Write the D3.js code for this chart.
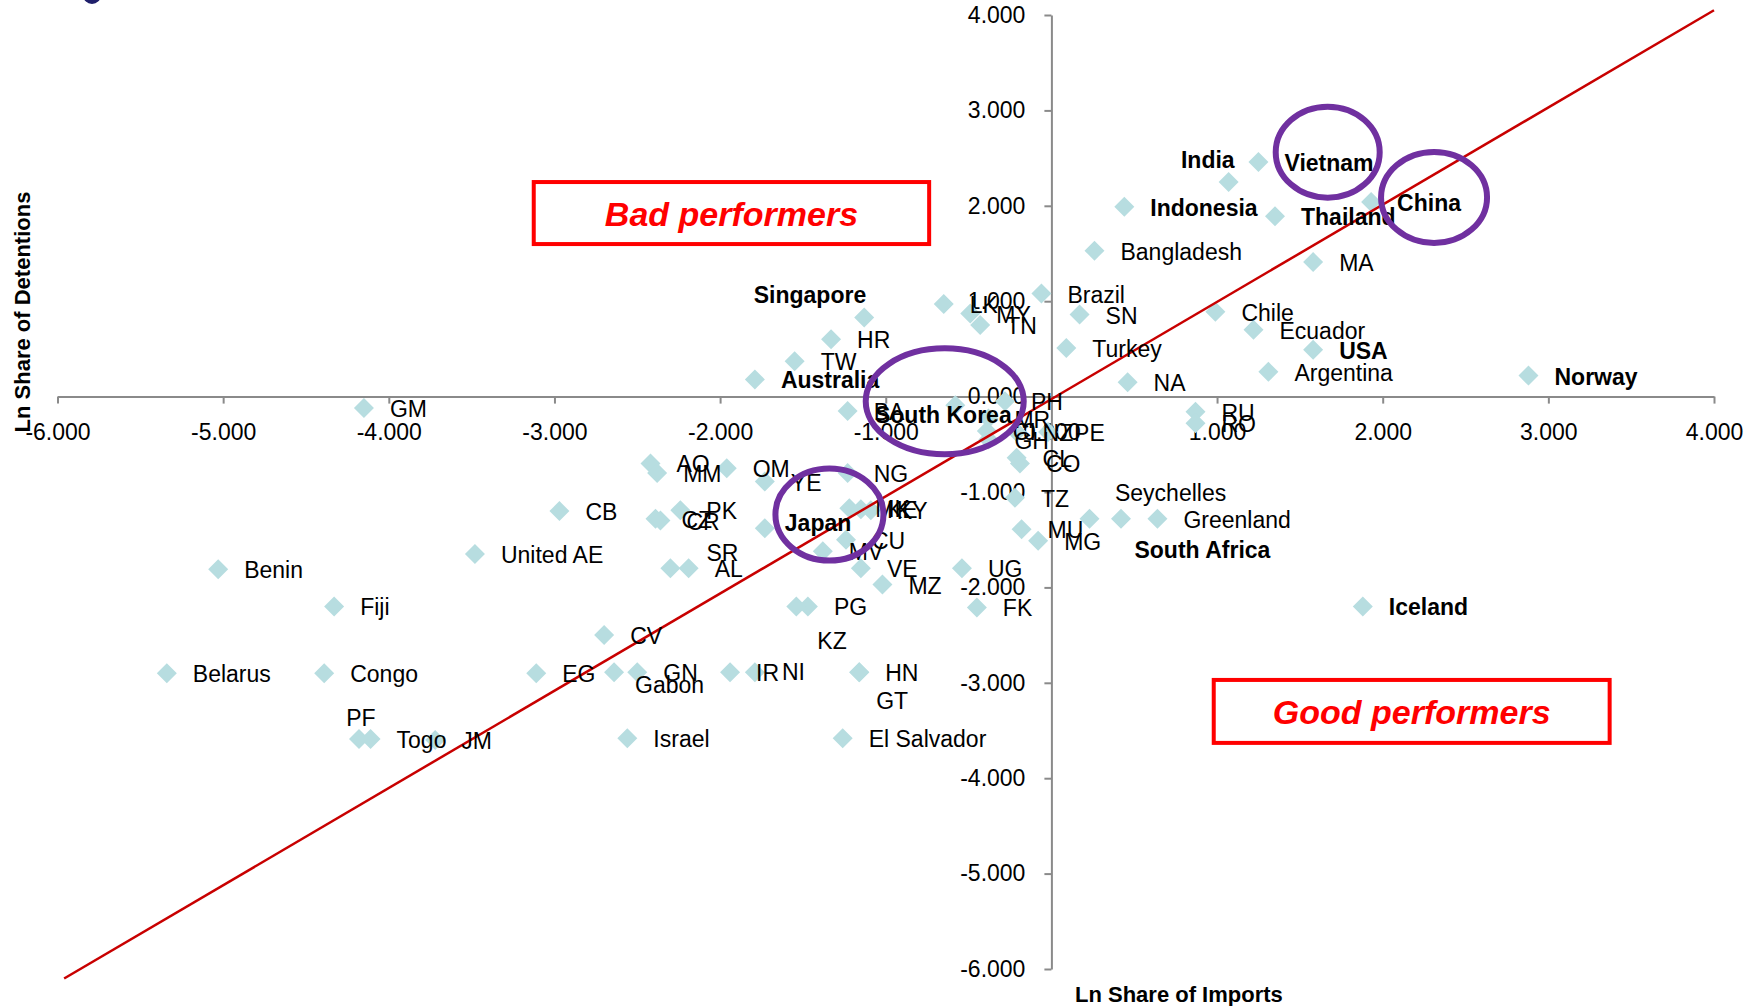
<!DOCTYPE html>
<html>
<head>
<meta charset="utf-8">
<script src="https://cdn.jsdelivr.net/npm/d3@7"></script>
<style>
  body { margin: 0; background: #fff; }
  text { font-family: "Liberation Sans", Arial, sans-serif; }
</style>
</head>
<body>
<div id="chart"></div>
<script>
// country codes / names, ln share of imports (x), ln share of detentions (y)
var countries = ["India", "Vietnam", "Indonesia", "Thailand", "China", "Bangladesh", "MA", "Chile", "Ecuador", "USA",
  "Argentina", "Norway", "NA", "Turkey", "SN", "Brazil", "LK", "MY", "TN", "Singapore",
  "HR", "TW", "Australia", "BA", "South Korea", "PH", "MR", "CI", "GH", "NZ",
  "PE", "CL", "CO", "TZ", "MU", "MG", "Seychelles", "South Africa", "Greenland", "RU",
  "RO", "Iceland", "GM", "AO", "MM", "OM", "YE", "NG", "CZ", "CR",
  "PK", "Japan", "MK", "KE", "KY", "CU", "MV", "SR", "AL", "VE",
  "MZ", "PG", "KZ", "UG", "FK", "HN", "GT", "IR", "NI", "GN",
  "Gabon", "EG", "CV", "Israel", "El Salvador", "Benin", "Fiji", "Belarus", "Congo", "PF",
  "Togo", "JM", "CB", "United AE"];
var lnImports = [1.07, 1.25, 0.44, 1.35, 1.93, 0.26, 1.58, 0.99, 1.22, 1.58,
  1.31, 2.88, 0.46, 0.09, 0.17, -0.06, -0.65, -0.49, -0.43, -1.13,
  -1.33, -1.55, -1.79, -1.23, -0.58, -0.28, -0.38, -0.39, -0.38, -0.21,
  -0.02, -0.21, -0.19, -0.22, -0.18, -0.08, 0.42, 0.23, 0.64, 0.87,
  0.87, 1.88, -4.15, -2.42, -2.38, -1.96, -1.73, -1.23, -2.39, -2.36,
  -2.24, -1.73, -1.22, -1.15, -1.09, -1.24, -1.38, -2.30, -2.19, -1.15,
  -1.02, -1.47, -1.54, -0.54, -0.45, -1.16, -1.16, -1.94, -1.79, -2.50,
  -2.64, -3.11, -2.70, -2.56, -1.26, -5.03, -4.33, -5.34, -4.39, -4.18,
  -4.11, -3.72, -2.97, -3.48];
var lnDetentions = [2.25, 2.46, 1.99, 1.89, 2.04, 1.53, 1.41, 0.89, 0.70, 0.49,
  0.26, 0.22, 0.15, 0.51, 0.86, 1.08, 0.97, 0.87, 0.75, 0.83,
  0.60, 0.37, 0.18, -0.15, -0.09, -0.05, -0.23, -0.36, -0.45, -0.37,
  -0.37, -0.64, -0.70, -1.06, -1.39, -1.51, -1.28, -1.28, -1.28, -0.16,
  -0.28, -2.20, -0.12, -0.70, -0.80, -0.75, -0.89, -0.80, -1.28, -1.30,
  -1.19, -1.38, -1.17, -1.18, -1.19, -1.50, -1.62, -1.80, -1.80, -1.80,
  -1.97, -2.20, -2.20, -1.80, -2.21, -2.89, -2.89, -2.89, -2.89, -2.89,
  -2.89, -2.90, -2.50, -3.58, -3.58, -1.81, -2.20, -2.90, -2.90, -3.59,
  -3.59, -3.60, -1.20, -1.65];
var boldNames = ["India", "Vietnam", "Indonesia", "Thailand", "China", "USA", "Norway", "Singapore",
  "Australia", "South Korea", "Japan", "South Africa", "Iceland"];

var xTicks = [-6, -5, -4, -3, -2, -1, 0, 1, 2, 3, 4];
var yTicks = [-6, -5, -4, -3, -2, -1, 0, 1, 2, 3, 4];

// red reference line end points
var lineX = [-5.96, 4.0];
var lineY = [-6.1, 4.05];

// highlighted groups (purple ellipses), centre in data units
var ringNames = ["Vietnam", "China", "South Korea", "Japan"];
var ringX = [1.668, 2.31, -0.644, -1.34];
var ringY = [2.562, 2.088, -0.05, -1.237];

var svgWidth = 1762;
var svgHeight = 1006;

var svg = d3.select("#chart")
            .append("svg")
            .attr("width", svgWidth)
            .attr("height", svgHeight)
            .style("background", "#fff");

var xScale = d3.scaleLinear().domain([-6, 4]).range([57.5, 1714]);
var yScale = d3.scaleLinear().domain([-6, 4]).range([969, 15]);

var fmt = function(d) { return d.toFixed(3); };
var axisColor = "#8a8a8a";

// little logo fragment top-left
svg.append("circle").attr("cx", 92).attr("cy", -5).attr("r", 9).attr("fill", "#1f1f6b");

var xAxis = d3.axisBottom(xScale).tickValues(xTicks).tickFormat(fmt)
              .tickSizeInner(7).tickSizeOuter(0).tickPadding(20);
var yAxis = d3.axisLeft(yScale).tickValues(yTicks).tickFormat(fmt)
              .tickSizeInner(7).tickSizeOuter(0).tickPadding(19);

var gx = svg.append("g")
            .attr("transform", `translate(0, ${yScale(0)})`)
            .call(xAxis);
var gy = svg.append("g")
            .attr("transform", `translate(${xScale(0)}, 0)`)
            .call(yAxis);

[gx, gy].forEach(function(g) {
    g.select(".domain").attr("stroke", axisColor).attr("stroke-width", 2);
    g.selectAll(".tick line").attr("stroke", axisColor).attr("stroke-width", 2);
    g.selectAll(".tick text").attr("fill", "#000").style("font-size", "23px")
     .style("font-family", "'Liberation Sans', Arial, sans-serif");
});

// points
var points = countries.map(function(c, i) {
    return { name: c, x: lnImports[i], y: lnDetentions[i], bold: boldNames.indexOf(c) >= 0 };
});

var diamond = d3.symbol().type(d3.symbolSquare).size(200);

svg.append("g").selectAll("path")
    .data(points)
    .enter()
    .append("path")
    .attr("d", diamond)
    .attr("transform", function(d) { return `translate(${xScale(d.x)}, ${yScale(d.y)}) rotate(45)`; })
    .attr("fill", "#b7dde0");

// red line
svg.append("line")
    .attr("x1", xScale(lineX[0])).attr("y1", yScale(lineY[0]))
    .attr("x2", xScale(lineX[1])).attr("y2", yScale(lineY[1]))
    .attr("stroke", "#c80000")
    .attr("stroke-width", 2.5);

// label placement (text offset from the marker), default is right of it
var labelShift = {
    "India": [6, -22, "end"],
    "Singapore": [2, -22, "end"],
    "South Korea": [-12, 10, "middle"],
    "Seychelles": [-6, -26, "start"],
    "South Africa": [45, 31, "start"],
    "PF": [2, -21, "middle"],
    "Gabon": [21, 13, "start"],
    "KZ": [21, 35, "start"],
    "GT": [17, 29, "start"],
    "NI": [27, 0, "start"],
    "SR": [36, -15, "start"],
    "Japan": [20, -5, "start"]
};

svg.append("g").selectAll("text")
    .data(points)
    .enter()
    .append("text")
    .attr("x", function(d) { var s = labelShift[d.name] || [26, 1]; return xScale(d.x) + s[0]; })
    .attr("y", function(d) { var s = labelShift[d.name] || [26, 1]; return yScale(d.y) + s[1] + 8; })
    .attr("text-anchor", function(d) { var s = labelShift[d.name]; return s ? s[2] : "start"; })
    .style("font-size", "23px")
    .style("font-weight", function(d) { return d.bold ? "bold" : "normal"; })
    .attr("fill", "#000")
    .text(function(d) { return d.name; });

// purple rings
var ringRx = [52, 53, 79, 54];
var ringRy = [45.5, 45.5, 53, 46];
svg.append("g").selectAll("ellipse")
    .data(ringNames)
    .enter()
    .append("ellipse")
    .attr("cx", function(d, i) { return xScale(ringX[i]); })
    .attr("cy", function(d, i) { return yScale(ringY[i]); })
    .attr("rx", function(d, i) { return ringRx[i]; })
    .attr("ry", function(d, i) { return ringRy[i]; })
    .attr("fill", "none")
    .attr("stroke", "#7030a0")
    .attr("stroke-width", 6);

// annotation boxes
var boxText = ["Bad performers", "Good performers"];
var boxX0 = [-3.125, 0.98];
var boxX1 = [-0.738, 3.37];
var boxY0 = [2.249, -2.97];
var boxY1 = [1.599, -3.63];

var boxes = svg.append("g").selectAll("g")
    .data(boxText)
    .enter()
    .append("g");
boxes.append("rect")
    .attr("x", function(d, i) { return xScale(boxX0[i]); })
    .attr("y", function(d, i) { return yScale(boxY0[i]); })
    .attr("width", function(d, i) { return xScale(boxX1[i]) - xScale(boxX0[i]); })
    .attr("height", function(d, i) { return yScale(boxY1[i]) - yScale(boxY0[i]); })
    .attr("fill", "#fff")
    .attr("stroke", "#ff0000")
    .attr("stroke-width", 4);
boxes.append("text")
    .attr("x", function(d, i) { return (xScale(boxX0[i]) + xScale(boxX1[i])) / 2; })
    .attr("y", function(d, i) { return (yScale(boxY0[i]) + yScale(boxY1[i])) / 2 + 13; })
    .attr("text-anchor", "middle")
    .style("font-size", "34px")
    .style("font-weight", "bold")
    .style("font-style", "italic")
    .attr("fill", "#ff0000")
    .text(function(d) { return d; });

// axis titles
svg.append("text")
    .attr("x", 1075)
    .attr("y", 1002)
    .style("font-size", "22px")
    .style("font-weight", "bold")
    .text("Ln Share of Imports");

svg.append("text")
    .attr("transform", "translate(30, 312) rotate(-90)")
    .attr("text-anchor", "middle")
    .style("font-size", "22px")
    .style("font-weight", "bold")
    .text("Ln Share of Detentions");
</script>
</body>
</html>
